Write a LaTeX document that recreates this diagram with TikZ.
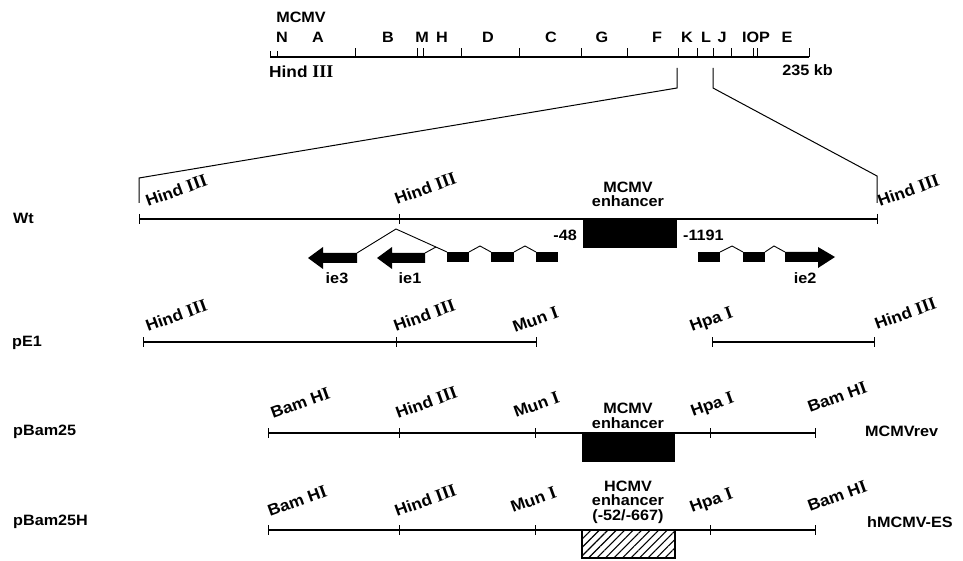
\documentclass[tikz,border=0pt]{standalone}
\usepackage{fontspec}
\setmainfont{Liberation Sans}[FakeStretch=1.08]
\newfontfamily\romfont{Liberation Serif}[Scale=1.12]
\usetikzlibrary{patterns.meta}
\newcommand{\rn}[1]{{\romfont\bfseries #1}}
\begin{document}
\begin{tikzpicture}[x=1pt,y=-1pt,
  every node/.style={font=\fontsize{15}{14.5}\selectfont\bfseries, inner sep=0pt},
  dna/.style={line width=1.3pt},
  sitemark/.style={line width=1pt},
  zoomline/.style={line width=1pt},
  site/.style={rotate=20, anchor=base west, font=\fontsize{16}{16}\selectfont\bfseries},
  intron/.style={line width=0.9pt, line join=miter},
  exon/.style={fill=black},
  lbl/.style={anchor=west},
  enh/.style={align=center}]
\useasboundingbox (0,0) rectangle (963,561);

% ---------- top MCMV map ----------
\coordinate (mapL) at (270,57);
\coordinate (mapR) at (809,57);
\draw[dna] (mapL) -- (mapR);
\foreach \x in {355,417,423,461,519,581,627,678,697,713,731,753,757,809}
  \draw[sitemark] (\x,57) -- (\x,48);
\foreach \x in {270,277}
  \draw[sitemark] (\x,57) -- (\x,51);
\node (mcmv) at (301,17) {MCMV};
\foreach \t/\x in {N/282,A/318,B/388,M/422,H/442,D/488,C/551,G/602,F/657,K/687,L/706,J/722,IOP/756,E/787}
  \node[anchor=base] (frag\t) at (\x,43) {\t};
\node[anchor=west, font=\fontsize{16}{16}\selectfont\bfseries] (hindtop) at (269,72) {Hind \rn{III}};
\node[anchor=east] (kb) at (833,70) {235 kb};

% ---------- zoom lines ----------
\coordinate (zl1) at (677,68);
\coordinate (zl2) at (677,88);
\coordinate (zl3) at (139,178);
\coordinate (zl4) at (139,203);
\coordinate (zr1) at (713,68);
\coordinate (zr2) at (713,88);
\coordinate (zr3) at (877,176);
\coordinate (zr4) at (877,203);
\draw[zoomline] (zl1) -- (zl2) -- (zl3) -- (zl4);
\draw[zoomline] (zr1) -- (zr2) -- (zr3) -- (zr4);

% ---------- Wt ----------
\node[lbl] (wt) at (13,218) {Wt};
\coordinate (wtL) at (139,219);
\coordinate (wtR) at (877,219);
\draw[dna] (wtL) -- (wtR);
\foreach \x in {139,399,877} \draw[sitemark] (\x,214) -- (\x,224);
\node[site] (wth1) at (148,207) {Hind \rn{III}};
\node[site] (wth2) at (397,205) {Hind \rn{III}};
\node[site] (wth3) at (880,207) {Hind \rn{III}};
\fill (583,219) rectangle (677,248);
\node[enh] (wtenh) at (628,194.5) {MCMV\\enhancer};
\node[anchor=east] (m48) at (577,235) {-48};
\node[anchor=west] (m1191) at (683,235) {-1191};

% ie3 / ie1 transcripts (leftward)
\fill[exon] (308,258) -- (323,247) -- (323,253) -- (357,253) -- (357,263) -- (323,263) -- (323,269) -- cycle;
\fill[exon] (377,258) -- (392,247) -- (392,253) -- (425,253) -- (425,263) -- (392,263) -- (392,269) -- cycle;
\fill[exon] (447,252) rectangle (469,262);
\fill[exon] (491,252) rectangle (514,262);
\fill[exon] (536,252) rectangle (558,262);
\draw[intron] (357,253) -- (396,229) -- (447,252);
\draw[intron] (425,253) -- (436,247);
\draw[intron] (469,252) -- (480,246) -- (491,252);
\draw[intron] (514,252) -- (525,246) -- (536,252);
\node (ie3) at (337,278) {ie3};
\node (ie1) at (410,278) {ie1};

% ie2 transcript (rightward)
\fill[exon] (698,252) rectangle (720,262);
\fill[exon] (743,252) rectangle (765,262);
\fill[exon] (835,257) -- (818,247) -- (818,252) -- (785,252) -- (785,262) -- (818,262) -- (818,268) -- cycle;
\draw[intron] (720,252) -- (732,246) -- (743,252);
\draw[intron] (765,252) -- (774,246) -- (785,252);
\node (ie2) at (805,278) {ie2};

% ---------- pE1 ----------
\node[lbl] (pe1) at (12,343) {pE1};
\draw[dna] (143,342) -- (536,342);
\draw[dna] (712,342) -- (874,342);
\foreach \x in {143,396,536,712,874} \draw[sitemark] (\x,337) -- (\x,347);
\node[site] (pe1h1) at (148,332) {Hind \rn{III}};
\node[site] (pe1h2) at (396,332) {Hind \rn{III}};
\node[site] (pe1mun) at (515,333) {Mun \rn{I}};
\node[site] (pe1hpa) at (692,332) {Hpa \rn{I}};
\node[site] (pe1h3) at (877,330) {Hind \rn{III}};

% ---------- pBam25 ----------
\node[lbl] (pb25) at (13,432) {pBam25};
\draw[dna] (268,433) -- (815,433);
\foreach \x in {268,399,535,710,815} \draw[sitemark] (\x,428) -- (\x,438);
\node[site] (pbb1) at (273,419) {Bam H\rn{I}};
\node[site] (pbh) at (398,419) {Hind \rn{III}};
\node[site] (pbmun) at (516,418) {Mun \rn{I}};
\node[site] (pbhpa) at (693,417) {Hpa \rn{I}};
\node[site] (pbb2) at (810,413) {Bam H\rn{I}};
\fill (582,433) rectangle (675,462);
\node[enh] (pbenh) at (628,416) {MCMV\\enhancer};
\node[lbl] (rev) at (865,431) {MCMVrev};

% ---------- pBam25H ----------
\node[lbl] (pb25h) at (13,522) {pBam25H};
\draw[dna] (268,530) -- (815,530);
\foreach \x in {268,399,535,710,815} \draw[sitemark] (\x,525) -- (\x,535);
\node[site] (phb1) at (270,517) {Bam H\rn{I}};
\node[site] (phh) at (397,517) {Hind \rn{III}};
\node[site] (phmun) at (513,513) {Mun \rn{I}};
\node[site] (phhpa) at (692,513) {Hpa \rn{I}};
\node[site] (phb2) at (810,512) {Bam H\rn{I}};
\draw[line width=1.3pt, pattern={Lines[angle=45,distance=6pt,line width=1.1pt]}] (582,530) rectangle (675,558);
\node[enh] (phenh) at (628,502) {HCMV\\enhancer\\(-52/-667)};
\node[lbl] (hes) at (867,522) {hMCMV-ES};
\end{tikzpicture}
\end{document}
